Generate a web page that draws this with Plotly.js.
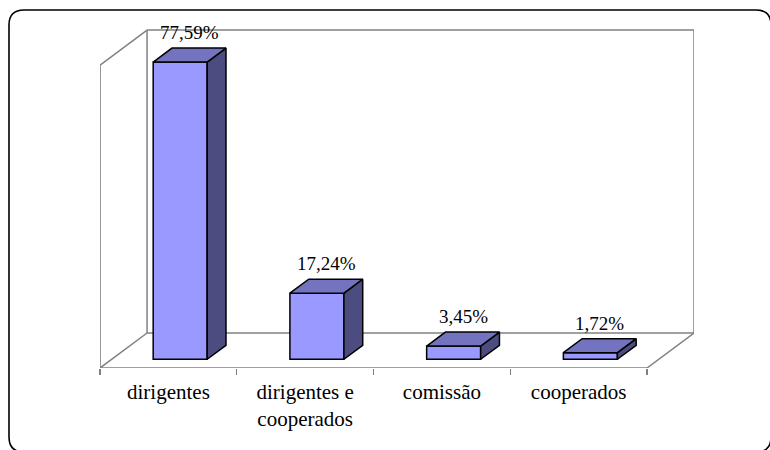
<!DOCTYPE html>
<html>
<head>
<meta charset="utf-8">
<script src="https://cdn.plot.ly/plotly-3.0.1.min.js"></script>
<style>
html,body{margin:0;padding:0;background:#fff;overflow:hidden;}
#chart svg text{font-family:'Liberation Serif','Times New Roman',serif !important;}
</style>
</head>
<body>
<div id="chart" style="width:770px;height:450px;"></div>
<script>
// ---- data ----
const categories = ['dirigentes', 'dirigentes e<br>cooperados', 'comissão', 'cooperados'];
const values = [77.59, 17.24, 3.45, 1.72];
const valueLabels = ['77,59%', '17,24%', '3,45%', '1,72%'];

// ---- geometry (3D look) ----
const PX_PER_CAT = 136.75, PX_PER_PCT = 3.83;
const DX = 47 / PX_PER_CAT;     // full depth offset, x units
const DY = 35 / PX_PER_PCT;     // full depth offset, y units
const WALL = 79.1;              // wall height (front plane)
const D0 = 0.25, DD = 0.4, BW = 0.395;
const FRONT = '#9999FF', TOP = '#7373BF', SIDE = '#4C4C80';
const WALLC = '#808080';

const L = 100, T = 29, PW = 594, PH = 339;
const XMIN = -0.5, XMAX = 3.5 + DX, YMAX = PH / PX_PER_PCT;
const SERIF = 'Liberation Serif';

const traces = [];
const off = D0 * DY;
values.forEach((v, i) => {
  const xc = i + D0 * DX;
  const xl = xc - BW / 2, xr = xc + BW / 2;
  const h = off + v;
  traces.push({type: 'scatter', mode: 'lines', fill: 'toself', fillcolor: SIDE,
    x: [xr, xr, xr + DD * DX, xr + DD * DX, xr],
    y: [off, h, h + DD * DY, off + DD * DY, off],
    line: {color: '#000', width: 1.5}, hoverinfo: 'skip', showlegend: false});
  traces.push({type: 'scatter', mode: 'lines', fill: 'toself', fillcolor: TOP,
    x: [xl, xr, xr + DD * DX, xl + DD * DX, xl],
    y: [h, h, h + DD * DY, h + DD * DY, h],
    line: {color: '#000', width: 1.5}, hoverinfo: 'skip', showlegend: false});
});
traces.push({type: 'bar', x: values.map((v, i) => i + D0 * DX), y: values, base: off,
  width: BW, marker: {color: FRONT, line: {color: '#000', width: 1.5}}, showlegend: false});
// invisible trace to activate the label axis
traces.push({type: 'scatter', mode: 'markers', xaxis: 'x2', x: [0], y: [0],
  marker: {opacity: 0}, showlegend: false, hoverinfo: 'skip'});

// value labels
const annotations = values.map((v, i) => ({
  xref: 'x', yref: 'y', x: i + D0 * DX + DD * DX / 2, y: off + v + DD * DY,
  text: valueLabels[i], showarrow: false, yanchor: 'bottom', xanchor: 'center', yshift: 3,
  font: {family: SERIF, size: 19, color: '#000'}
}));

// walls / floor
const ln = (x0, y0, x1, y1) => ({type: 'line', xref: 'x', yref: 'y', x0, y0, x1, y1,
  line: {color: WALLC, width: 1.5}, layer: 'below'});
const bx = XMIN + DX, ex = 3.5 + DX;
const shapes = [
  ln(bx, DY, bx, WALL + DY), ln(bx, WALL + DY, ex, WALL + DY), ln(ex, WALL + DY, ex, DY),
  ln(bx, DY, ex, DY),
  ln(XMIN, 0, XMIN, WALL), ln(XMIN, WALL, bx, WALL + DY),
  ln(XMIN, 0, 3.5, 0), ln(XMIN, 0, bx, DY), ln(3.5, 0, ex, DY)
];
// outer rounded border (pixel -> paper)
const px = p => (p - L) / PW, py = p => (T + PH - p) / PH;
const bl = 9, bt = 10, br = 771, bb = 452, rr = 15;
const rx = rr / PW, ry = rr / PH;
const path = `M ${px(bl)},${py(bt) - ry} Q ${px(bl)},${py(bt)} ${px(bl) + rx},${py(bt)}` +
  ` L ${px(br) - rx},${py(bt)} Q ${px(br)},${py(bt)} ${px(br)},${py(bt) - ry}` +
  ` L ${px(br)},${py(bb) + ry} Q ${px(br)},${py(bb)} ${px(br) - rx},${py(bb)}` +
  ` L ${px(bl) + rx},${py(bb)} Q ${px(bl)},${py(bb)} ${px(bl)},${py(bb) + ry} Z`;
shapes.push({type: 'path', xref: 'paper', yref: 'paper', path, line: {color: '#000', width: 1.6}});

const layout = {
  width: 770, height: 450, autosize: false,
  margin: {l: L, r: 770 - L - PW, t: T, b: 450 - T - PH, pad: 0},
  paper_bgcolor: '#fff', plot_bgcolor: 'rgba(0,0,0,0)',
  showlegend: false, shapes, annotations,
  xaxis: {range: [XMIN - 0.0005, XMAX], tickvals: [-0.5, 0.5, 1.5, 2.5, 3.5], showticklabels: false,
    ticks: 'outside', ticklen: 6, tickcolor: WALLC, tickwidth: 1.3,
    showgrid: false, zeroline: false, showline: false, fixedrange: true},
  xaxis2: {overlaying: 'x', anchor: 'y', side: 'bottom', range: [XMIN - 0.0005, XMAX],
    tickmode: 'array', tickvals: [0, 1, 2, 3], ticktext: categories, ticks: '',
    ticklen: 0, ticklabelstandoff: 9,
    tickfont: {family: SERIF, size: 21, color: '#000'},
    showgrid: false, zeroline: false, showline: false, fixedrange: true},
  yaxis: {range: [0, YMAX], showgrid: false, zeroline: false, showline: false,
    showticklabels: false, ticks: '', fixedrange: true}
};
Plotly.newPlot('chart', traces, layout, {displayModeBar: false, staticPlot: true});
</script>
</body>
</html>
